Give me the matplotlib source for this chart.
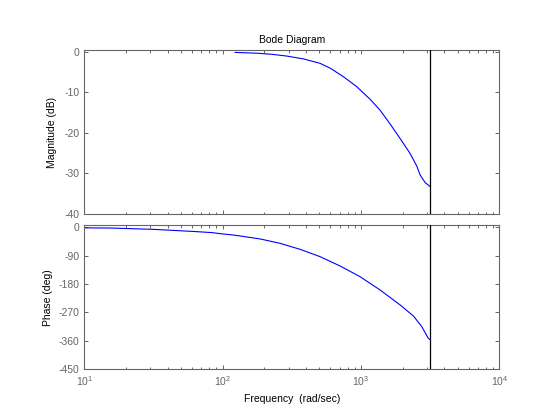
import numpy as np
import matplotlib
matplotlib.use("Agg")
import matplotlib.pyplot as plt
from matplotlib.ticker import LogLocator, FixedLocator, NullFormatter, FixedFormatter

plt.rcParams['font.family'] = ['Liberation Sans', 'DejaVu Sans']
plt.rcParams['mathtext.fontset'] = 'custom'
plt.rcParams['mathtext.rm'] = 'Liberation Sans'
plt.rcParams['mathtext.it'] = 'Liberation Sans'

# ---- data ----
mag_freq = [123, 177, 227, 290, 383, 506, 599, 746, 933, 1165, 1375, 1624, 1918, 2265, 2531, 2675, 2909, 3142]
mag_db = [-0.1, -0.3, -0.57, -1.0, -1.7, -2.8, -4.0, -6.1, -8.6, -11.7, -14.4, -17.8, -21.4, -25.1, -28.2, -30.4, -32.3, -33.2]

phase_freq = [10, 15.6, 31, 48, 65, 84, 100, 119, 134, 187, 260, 363, 506, 706, 985, 1375, 1918, 2394, 2754, 3069, 3142]
phase_deg = [-1.8, -2.4, -6.4, -10.7, -13.8, -17, -21, -24.4, -27.6, -37, -50.8, -69.8, -93, -122.6, -156.5, -198.7, -246, -281, -315, -352, -355]

nyquist = 3141.6
mag_ticks = [0, -10, -20, -30, -40]
phase_ticks = [0, -90, -180, -270, -360, -450]
x_ticks = [10, 100, 1000, 10000]
x_ticklabels = [r'$10^{1}$', r'$10^{2}$', r'$10^{3}$', r'$10^{4}$']

title = 'Bode Diagram'
mag_label = 'Magnitude (dB)'
phase_label = 'Phase (deg)'
x_label = 'Frequency  (rad/sec)'

axis_color = '#666666'
fs = 7.5

fig = plt.figure(figsize=(5.5, 4.16), dpi=100)
W, H = 550, 416
left, right = 84.3, 499.3
ax1 = fig.add_axes([left / W, (H - 213.7) / H, (right - left) / W, (213.7 - 50.3) / H])
ax2 = fig.add_axes([left / W, (H - 369.3) / H, (right - left) / W, (369.3 - 225.3) / H])

for ax in (ax1, ax2):
    ax.set_xscale('log')
    ax.set_xlim(10, 1e4)
    ax.xaxis.set_major_locator(FixedLocator(x_ticks))
    ax.xaxis.set_minor_locator(LogLocator(base=10, subs=np.arange(2, 10)))
    ax.xaxis.set_minor_formatter(NullFormatter())
    for s in ax.spines.values():
        s.set_color(axis_color)
        s.set_linewidth(0.8)
    ax.tick_params(which='both', direction='in', top=True, right=True,
                   colors=axis_color, labelsize=fs, width=0.7)
    ax.tick_params(which='major', length=3.0)
    ax.tick_params(which='minor', length=1.8)
    ax.axvline(nyquist, color='black', lw=0.9, zorder=3)

ax1.plot(mag_freq, mag_db, color='blue', lw=0.8)
ax1.set_ylim(-40, 0.42)
ax1.set_yticks(mag_ticks)
ax1.set_yticklabels([str(t) for t in mag_ticks])
ax1.xaxis.set_major_formatter(NullFormatter())
ax1.set_ylabel(mag_label, fontsize=fs, color='black', labelpad=5)
ax1.set_title(title, fontsize=fs, color='black', pad=5)

ax2.plot(phase_freq, phase_deg, color='blue', lw=0.8)
ax2.set_ylim(-450, 6.3)
ax2.set_yticks(phase_ticks)
ax2.set_yticklabels([str(t) for t in phase_ticks])
ax2.xaxis.set_major_formatter(FixedFormatter(x_ticklabels))
ax2.set_ylabel(phase_label, fontsize=fs, color='black', labelpad=4)
ax2.set_xlabel(x_label, fontsize=fs, color='black', labelpad=4)

fig.savefig('out.png', dpi=100)
